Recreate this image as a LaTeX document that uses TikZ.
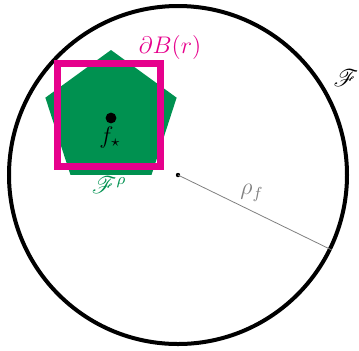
\documentclass[tikz,border=0pt]{standalone}
\usepackage{amsmath,amssymb,mathrsfs}
\usetikzlibrary{shapes.geometric,positioning,calc}
\definecolor{fgreen}{HTML}{009150}
\definecolor{fmag}{HTML}{E6008C}
\tikzset{feasset/.style={circle,draw=black,line width=2pt,minimum size=169pt,inner sep=0pt},
  penta/.style={regular polygon,regular polygon sides=5,fill=fgreen,minimum size=69pt,inner sep=0pt},
  ballbox/.style={draw=fmag,line width=3.5pt,minimum size=51.5pt,inner sep=0pt},
  radius/.style={draw=gray,line width=0.4pt}}
\begin{document}
\begin{tikzpicture}[x=0.5pt,y=-0.5pt]
\useasboundingbox (0,0) rectangle (359,350);
\node[feasset] (set) at (178,175) {};
\node[penta] (feas) at (111,119) {};
\node[ballbox] (ball) at (109,114.5) {};
\coordinate (o) at (178,175);
\coordinate (fstar) at (111,118);
\fill (o) circle (1.1pt);
\fill (fstar) circle (2.7pt);
\draw[radius] (o)--(set.-26);
\node[text=gray,font=\large] (rho) at (252,193) {$\rho_f$};
\node[font=\large] (fs) at (110,137) {$f_\star$};
\node[text=fmag,font=\large] (dB) at (170,47) {$\partial B(r)$};
\node[text=fgreen,font=\large] (fr) at (109,185) {$\mathscr{F}^\rho$};
\node[font=\large] (F) at (346,78) {$\mathscr{F}$};
\end{tikzpicture}
\end{document}
